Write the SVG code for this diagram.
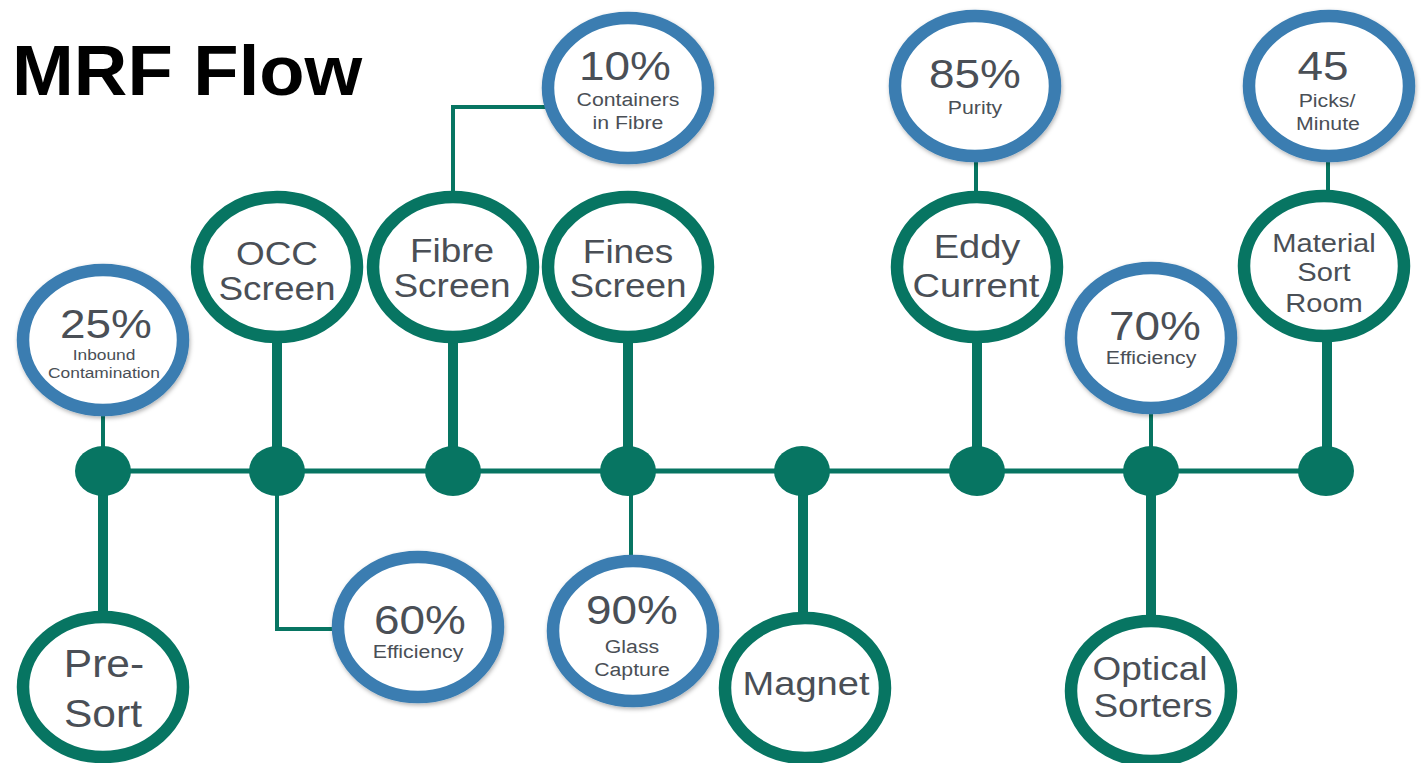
<svg xmlns="http://www.w3.org/2000/svg" width="1422" height="763" viewBox="0 0 1422 763">
<defs>
<filter id="sh" x="-20%" y="-20%" width="140%" height="140%">
<feDropShadow dx="1" dy="2" stdDeviation="2" flood-color="#000" flood-opacity="0.3"/>
</filter>
</defs>
<style>
.g{fill:#fff;stroke:#077562;stroke-width:12.5}
.b{fill:#fff;stroke:#3a7db1;stroke-width:12.5;filter:url(#sh)}
.dot{fill:#077562}
.thin{stroke:#077562;stroke-width:4;fill:none}
.thick{stroke:#077562;stroke-width:10;fill:none}
.main{stroke:#077562;stroke-width:5;fill:none}
text{font-family:"Liberation Sans",Arial,Helvetica,sans-serif;fill:#4a4f56;text-anchor:middle}
.pct{font-size:41px}
.sm{font-size:19px}
.xs{font-size:15.5px}
.lb{font-size:33px}
.title{font-weight:bold;font-size:70px;fill:#000;text-anchor:start}
</style>
<rect width="1422" height="763" fill="#fff"/>
<text class="title" transform="translate(12,95) scale(1.06,1)">MRF Flow</text>

<g id="connectors">
<line class="main" x1="103" y1="471" x2="1327" y2="471"/>
<line class="thin" x1="103" y1="415" x2="103" y2="450"/>
<line class="thick" x1="103" y1="490" x2="103" y2="615"/>
<line class="thick" x1="277" y1="340" x2="277" y2="450"/>
<polyline class="thin" points="277,490 277,629 336,629"/>
<polyline class="thin" points="453,195 453,107 546,107"/>
<line class="thick" x1="453" y1="340" x2="453" y2="450"/>
<line class="thick" x1="628" y1="340" x2="628" y2="450"/>
<line class="thin" x1="631" y1="490" x2="631" y2="558"/>
<line class="thick" x1="803" y1="490" x2="803" y2="615"/>
<line class="thin" x1="976" y1="160" x2="976" y2="195"/>
<line class="thick" x1="977" y1="340" x2="977" y2="450"/>
<line class="thin" x1="1151" y1="413" x2="1151" y2="450"/>
<line class="thick" x1="1151" y1="490" x2="1151" y2="618"/>
<line class="thin" x1="1328" y1="160" x2="1328" y2="193"/>
<line class="thick" x1="1327" y1="340" x2="1327" y2="450"/>
<ellipse class="dot" cx="103" cy="471" rx="28" ry="25"/>
<ellipse class="dot" cx="277" cy="471" rx="28" ry="25"/>
<ellipse class="dot" cx="453" cy="471" rx="28" ry="25"/>
<ellipse class="dot" cx="628" cy="471" rx="28" ry="25"/>
<ellipse class="dot" cx="802" cy="471" rx="28" ry="25"/>
<ellipse class="dot" cx="977" cy="471" rx="28" ry="25"/>
<ellipse class="dot" cx="1151" cy="471" rx="28" ry="25"/>
<ellipse class="dot" cx="1326" cy="471" rx="28" ry="25"/>
</g>

<g id="stat-25">
<ellipse class="b" cx="103" cy="340" rx="80" ry="70"/>
<text class="pct" transform="translate(106,338) scale(1.12,1)">25%</text>
<text class="xs" transform="translate(104,360) scale(1.12,1)">Inbound</text>
<text class="xs" transform="translate(104,378) scale(1.12,1)">Contamination</text>
</g>
<g id="pre-sort">
<ellipse class="g" cx="103" cy="687" rx="80" ry="70"/>
<text style="font-size:38px" transform="translate(104,677) scale(1.12,1)">Pre-</text>
<text style="font-size:38px" transform="translate(103,727) scale(1.12,1)">Sort</text>
</g>
<g id="occ-screen">
<ellipse class="g" cx="277" cy="267" rx="80" ry="70"/>
<text class="lb" transform="translate(277,265) scale(1.12,1)">OCC</text>
<text class="lb" transform="translate(277,300) scale(1.12,1)">Screen</text>
</g>
<g id="stat-60">
<ellipse class="b" cx="418" cy="627" rx="80" ry="70"/>
<text class="pct" transform="translate(420,634) scale(1.12,1)">60%</text>
<text class="sm" transform="translate(418,658) scale(1.12,1)">Efficiency</text>
</g>
<g id="fibre-screen">
<ellipse class="g" cx="453" cy="267" rx="80" ry="70"/>
<text class="lb" transform="translate(452,262) scale(1.12,1)">Fibre</text>
<text class="lb" transform="translate(452,297) scale(1.12,1)">Screen</text>
</g>
<g id="stat-10">
<ellipse class="b" cx="628" cy="88" rx="80" ry="70"/>
<text class="pct" transform="translate(625,80) scale(1.12,1)">10%</text>
<text class="sm" transform="translate(628,106) scale(1.12,1)">Containers</text>
<text class="sm" transform="translate(628,129) scale(1.12,1)">in Fibre</text>
</g>
<g id="fines-screen">
<ellipse class="g" cx="628" cy="267" rx="80" ry="70"/>
<text class="lb" transform="translate(628,263) scale(1.12,1)">Fines</text>
<text class="lb" transform="translate(628,297) scale(1.12,1)">Screen</text>
</g>
<g id="stat-90">
<ellipse class="b" cx="633" cy="631" rx="80" ry="70"/>
<text class="pct" transform="translate(632,624) scale(1.12,1)">90%</text>
<text class="sm" transform="translate(632,653) scale(1.12,1)">Glass</text>
<text class="sm" transform="translate(632,676) scale(1.12,1)">Capture</text>
</g>
<g id="magnet">
<ellipse class="g" cx="805" cy="688" rx="80" ry="70"/>
<text style="font-size:34px" transform="translate(806,695) scale(1.12,1)">Magnet</text>
</g>
<g id="stat-85">
<ellipse class="b" cx="975" cy="86" rx="80" ry="70"/>
<text class="pct" transform="translate(975,88) scale(1.12,1)">85%</text>
<text class="sm" transform="translate(975,114) scale(1.12,1)">Purity</text>
</g>
<g id="eddy-current">
<ellipse class="g" cx="977" cy="267" rx="80" ry="70"/>
<text style="font-size:34px" transform="translate(977,258) scale(1.12,1)">Eddy</text>
<text style="font-size:34px" transform="translate(976,297) scale(1.12,1)">Current</text>
</g>
<g id="stat-70">
<ellipse class="b" cx="1151" cy="338" rx="80" ry="70"/>
<text class="pct" transform="translate(1155,340) scale(1.12,1)">70%</text>
<text class="sm" transform="translate(1151,364) scale(1.12,1)">Efficiency</text>
</g>
<g id="optical-sorters">
<ellipse class="g" cx="1151" cy="691" rx="80" ry="70"/>
<text class="lb" transform="translate(1150,680) scale(1.12,1)">Optical</text>
<text class="lb" transform="translate(1153,717) scale(1.12,1)">Sorters</text>
</g>
<g id="stat-45">
<ellipse class="b" cx="1329" cy="86" rx="80" ry="70"/>
<text class="pct" transform="translate(1323,80) scale(1.12,1)">45</text>
<text class="sm" transform="translate(1327,107) scale(1.12,1)">Picks/</text>
<text class="sm" transform="translate(1328,130) scale(1.12,1)">Minute</text>
</g>
<g id="material-sort-room">
<ellipse class="g" cx="1324" cy="266" rx="80" ry="70"/>
<text style="font-size:26px" transform="translate(1324,252) scale(1.12,1)">Material</text>
<text style="font-size:26px" transform="translate(1324,281) scale(1.12,1)">Sort</text>
<text style="font-size:26px" transform="translate(1324,312) scale(1.12,1)">Room</text>
</g>
</svg>
